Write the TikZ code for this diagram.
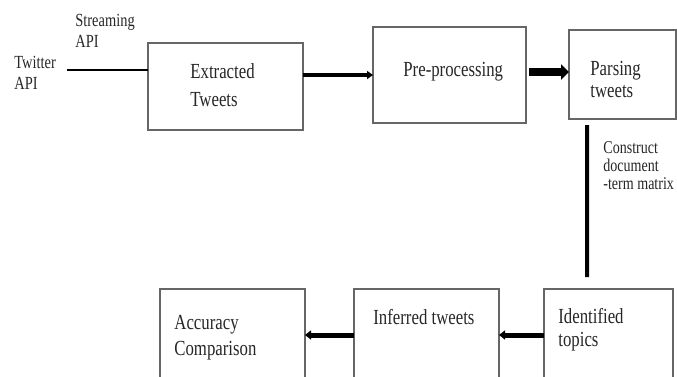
\documentclass[tikz,border=0pt]{standalone}
\usepackage{fontspec}
\setmainfont{Liberation Serif}[FakeStretch=0.78]
\usetikzlibrary{arrows.meta,positioning}

\begin{document}
\begin{tikzpicture}[x=1bp,y=-1bp,thick,
    box/.style={draw=black!60,line width=1.2bp,inner sep=0pt,outer sep=0pt},
    bigtxt/.style={anchor=base west,align=left,inner sep=0pt,text=black!85,
      font=\fontsize{21.5bp}{28bp}\selectfont},
    smalltxt/.style={anchor=base west,align=left,inner sep=0pt,text=black!85,
      font=\fontsize{18.5bp}{21bp}\selectfont}]

    \useasboundingbox (0,0) rectangle (677,376);
    \clip (0,0) rectangle (677,376);

    % boxes
    \node[box,minimum width=155bp,minimum height=87bp] (extracted) at (225.5,86.5) {};
    \node[box,minimum width=153bp,minimum height=96bp] (preproc) at (449.5,75) {};
    \node[box,minimum width=107bp,minimum height=89bp] (parsing) at (622.5,74.5) {};
    \node[box,minimum width=145bp,minimum height=110bp] (accuracy) at (232.5,344) {};
    \node[box,minimum width=145bp,minimum height=110bp] (inferred) at (426.5,344) {};
    \node[box,minimum width=129bp,minimum height=110bp] (identified) at (608.5,344) {};

    % texts (base = baseline of the last line)
    \node[smalltxt] (twitter) at (14,89) {Twitter\\API};
    \node[smalltxt] (streaming) at (75,47) {Streaming\\API};
    \node[bigtxt] (extractedtxt) at (190,106) {Extracted\\Tweets};
    \node[bigtxt] (preproctxt) at (403,76) {Pre-processing};
    \node[bigtxt,font=\fontsize{21.5bp}{22bp}\selectfont] (parsingtxt) at (590,97) {Parsing\\tweets};
    \node[smalltxt,font=\fontsize{18bp}{18bp}\selectfont] (construct) at (603,189) {Construct\\document\\-term matrix};
    \node[bigtxt,font=\fontsize{21.5bp}{26bp}\selectfont] (accuracytxt) at (174,355) {Accuracy\\Comparison};
    \node[bigtxt] (inferredtxt) at (373,324) {Inferred tweets};
    \node[bigtxt,font=\fontsize{21.5bp}{23bp}\selectfont] (identifiedtxt) at (558,346) {Identified\\topics};

    % connectors
    \coordinate (twend) at (67,70);
    \draw[line width=2bp] (twend) -- (twend -| extracted.west);
    \draw[line width=4bp,-{Triangle[length=6bp,width=8bp]}] (extracted.east |- preproc.west) -- (preproc.west);
    \draw[line width=8bp,-{Triangle[length=8bp,width=15bp]}] ([xshift=3bp,yshift=3bp]preproc.east) -- ([yshift=3bp]preproc.east -| parsing.west);
    \draw[line width=4bp] ([xshift=-35.5bp,yshift=-6bp]parsing.south) -- ([xshift=-21.5bp,yshift=12bp]identified.north);
    \draw[line width=5bp,-{Triangle[length=6bp,width=9bp]}] ([yshift=9bp]identified.west) -- ([yshift=9bp]inferred.east);
    \draw[line width=5bp,-{Triangle[length=6bp,width=9bp]}] ([yshift=9bp]inferred.west) -- ([yshift=9bp]accuracy.east);
  \end{tikzpicture}
\end{document}
